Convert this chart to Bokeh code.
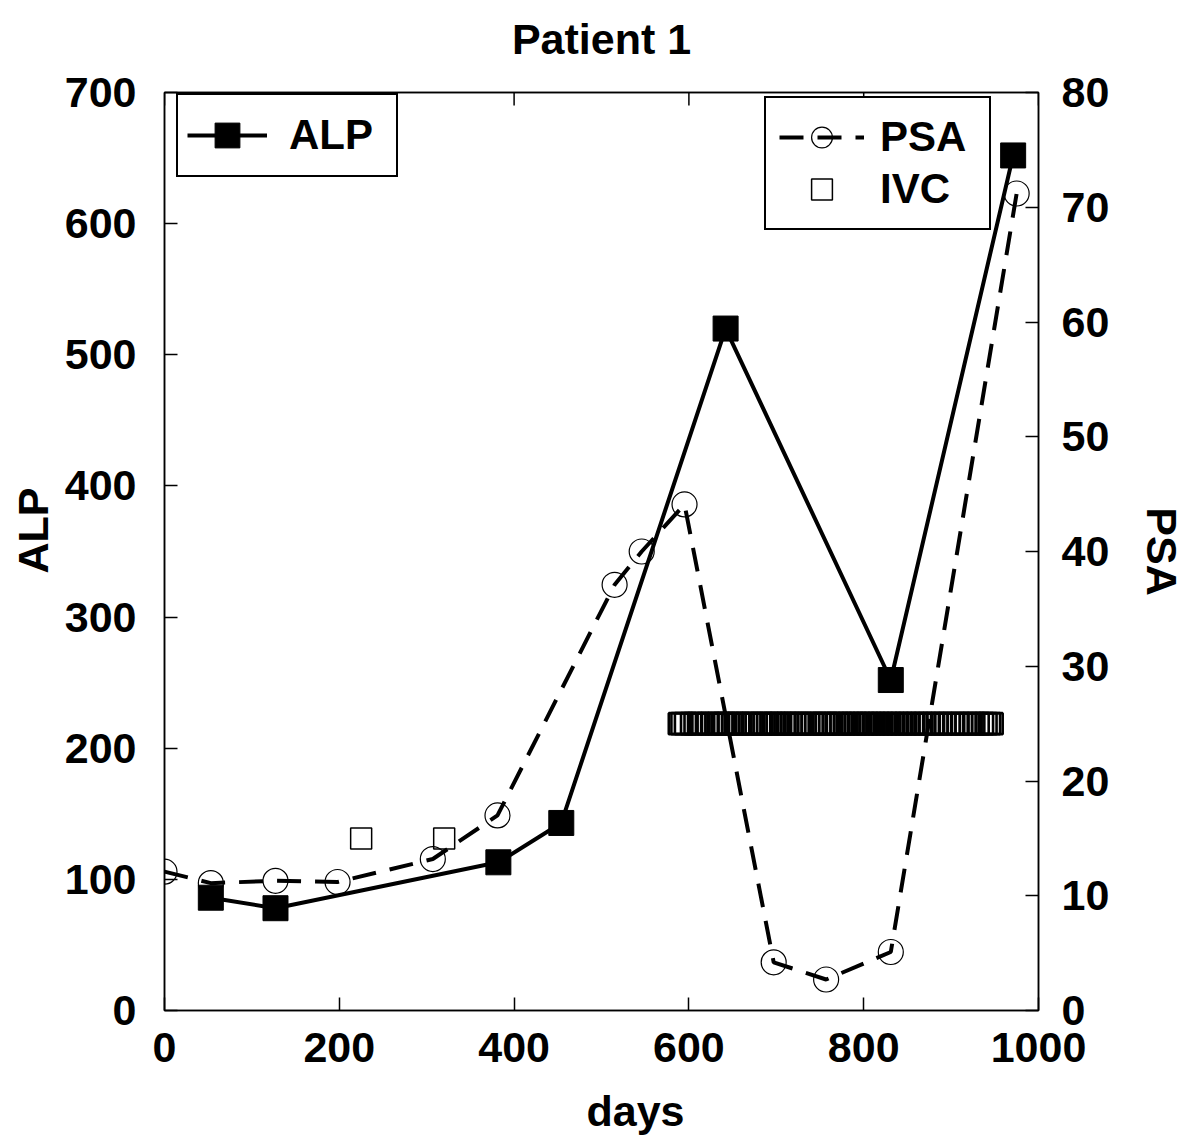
from bokeh.plotting import figure
from bokeh.models import (LinearAxis, Range1d, FixedTicker, Legend, LegendItem, Title)
from bokeh.embed import file_html
from bokeh.resources import INLINE

# ---- data ----
alp_days = [53, 127, 382, 454, 642, 831, 971]
alp_vals = [86, 78, 113, 143, 520, 252, 652]

psa_days = [0, 53, 127, 198, 307, 381, 515, 546, 595, 697, 757, 831, 975]
psa_vals = [12.1, 11.1, 11.3, 11.2, 13.2, 17.0, 37.1, 40.0, 44.1, 4.2, 2.7, 5.1, 71.2]

ivc_days = [225, 320,
            589, 592, 596, 603, 607, 611, 614, 622, 626, 631, 634, 638, 641, 645,
            650, 653, 657, 662, 666, 670, 673, 677, 683, 686, 690, 694, 698, 701,
            705, 710, 713, 717, 721, 725, 728, 733, 737, 741, 745, 750, 754, 757,
            761, 766, 770, 774, 778, 783, 787, 791, 795, 800, 804, 808, 812, 817,
            821, 826, 830, 834, 839, 843, 848, 852, 857, 861, 866, 870, 875, 880,
            884, 889, 893, 898, 903, 908, 912, 917, 922, 926, 931, 936, 940, 944, 947]
ivc_vals = [15, 15] + [25] * (len(ivc_days) - 2)

x_ticks = [0, 200, 400, 600, 800, 1000]
alp_ticks = [0, 100, 200, 300, 400, 500, 600, 700]
psa_ticks = [0, 10, 20, 30, 40, 50, 60, 70, 80]

TITLE = "Patient 1"

FONT = "Liberation Sans"
FS = "43px"
FRAME_W, FRAME_H = 874, 918
TICK_IN = 13

p = figure(frame_width=FRAME_W, frame_height=FRAME_H,
           x_range=Range1d(0, 1000), y_range=Range1d(0, 700),
           output_backend="svg", toolbar_location=None,
           min_border_left=164, min_border_right=136,
           min_border_top=92, min_border_bottom=118)
p.extra_y_ranges = {"psa": Range1d(0, 80)}

p.grid.visible = False
p.outline_line_color = "black"
p.outline_line_width = 1.5
p.outline_line_alpha = 1
p.background_fill_color = "white"
p.border_fill_color = "white"

def style_axis(ax, ticks):
    ax.ticker = FixedTicker(ticks=ticks)
    ax.major_tick_in = TICK_IN
    ax.major_tick_out = 0
    ax.minor_tick_in = 0
    ax.minor_tick_out = 0
    ax.major_tick_line_width = 1.5
    ax.axis_line_width = 1.5
    ax.major_label_text_font = FONT
    ax.major_label_text_font_size = FS
    ax.major_label_text_font_style = "bold"
    ax.major_label_text_color = "black"
    ax.axis_label_text_font = FONT
    ax.axis_label_text_font_size = FS
    ax.axis_label_text_font_style = "bold"
    ax.axis_label_text_color = "black"

# bottom (days) axis and left (ALP) axis created by figure()
xa = p.below[0]
style_axis(xa, x_ticks)
xa.major_label_standoff = 22

ya = p.left[0]
style_axis(ya, alp_ticks)
ya.major_label_standoff = 28

# top axis: carries the chart title only (no ticks, no tick labels)
top_ax = LinearAxis()
style_axis(top_ax, [])
top_ax.axis_label = TITLE
top_ax.major_label_standoff = 0
top_ax.axis_label_standoff = 30
p.add_layout(top_ax, "above")

alp_title = Title(text="ALP", text_font=FONT, text_font_size=FS,
                  text_font_style="bold", text_color="black",
                  align="left", offset=437, standoff=10)
p.add_layout(alp_title, "left")

ra = LinearAxis(y_range_name="psa")
style_axis(ra, psa_ticks)
ra.axis_label = "PSA"
ra.major_label_standoff = 23
ra.axis_label_standoff = 26
p.add_layout(ra, "right")

days_title = Title(text="days", text_font=FONT, text_font_size=FS,
                   text_font_style="bold", text_color="black",
                   align="left", offset=422, standoff=40)
p.add_layout(days_title, "below")

# inward ticks along the top edge (mirror of the bottom axis ticks)
yspan = p.y_range.end - p.y_range.start
y_top = p.y_range.end
tick_len = TICK_IN * yspan / FRAME_H
p.segment(x0=x_ticks, y0=[y_top] * len(x_ticks),
          x1=x_ticks, y1=[y_top - tick_len] * len(x_ticks),
          line_color="black", line_width=1.5)

# ---- glyphs ----
psa_line = p.line(psa_days, psa_vals, y_range_name="psa", line_color="black",
                  line_width=4, line_dash="24 14")
psa_pts = p.scatter(psa_days, psa_vals, y_range_name="psa", marker="circle",
                    size=25, fill_alpha=0, line_color="black", line_width=1.2)

alp_line = p.line(alp_days, alp_vals, line_color="black", line_width=4)
alp_pts = p.scatter(alp_days, alp_vals, marker="square", size=25,
                    fill_color="black", line_color="black")

early = [(d, v) for d, v in zip(ivc_days, ivc_vals) if d < 500]
late = [(d, v) for d, v in zip(ivc_days, ivc_vals) if d >= 500]
ivc_pts = p.scatter([d for d, _ in early], [v for _, v in early], y_range_name="psa",
                    marker="square", size=21, fill_alpha=0,
                    line_color="black", line_width=1.5)
ivc_band = p.scatter([d for d, _ in late], [v for _, v in late], y_range_name="psa",
                     marker="square", size=21, fill_alpha=0,
                     line_color="black", line_width=2.6)

def style_legend(lg):
    lg.border_line_color = "black"
    lg.border_line_width = 2
    lg.border_line_alpha = 1
    lg.background_fill_color = "white"
    lg.background_fill_alpha = 1
    lg.label_text_font = FONT
    lg.label_text_font_size = "42px"
    lg.label_text_font_style = "bold"
    lg.label_text_color = "black"
    lg.margin = 0

leg1 = Legend(items=[LegendItem(label="ALP", renderers=[alp_line, alp_pts])],
              location=(12, 833))
style_legend(leg1)
leg1.padding = 9
leg1.glyph_width = 80
leg1.glyph_height = 62
leg1.label_standoff = 22
leg1.label_width = 98
p.add_layout(leg1, "center")

leg2 = Legend(items=[LegendItem(label="PSA", renderers=[psa_line, psa_pts]),
                     LegendItem(label="IVC", renderers=[ivc_pts])],
              location=(600, 780))
style_legend(leg2)
leg2.padding = 13
leg2.spacing = 0
leg2.glyph_width = 85
leg2.glyph_height = 52
leg2.label_standoff = 16
leg2.label_width = 96
p.add_layout(leg2, "center")

open("out.html", "w").write(file_html(p, INLINE))
